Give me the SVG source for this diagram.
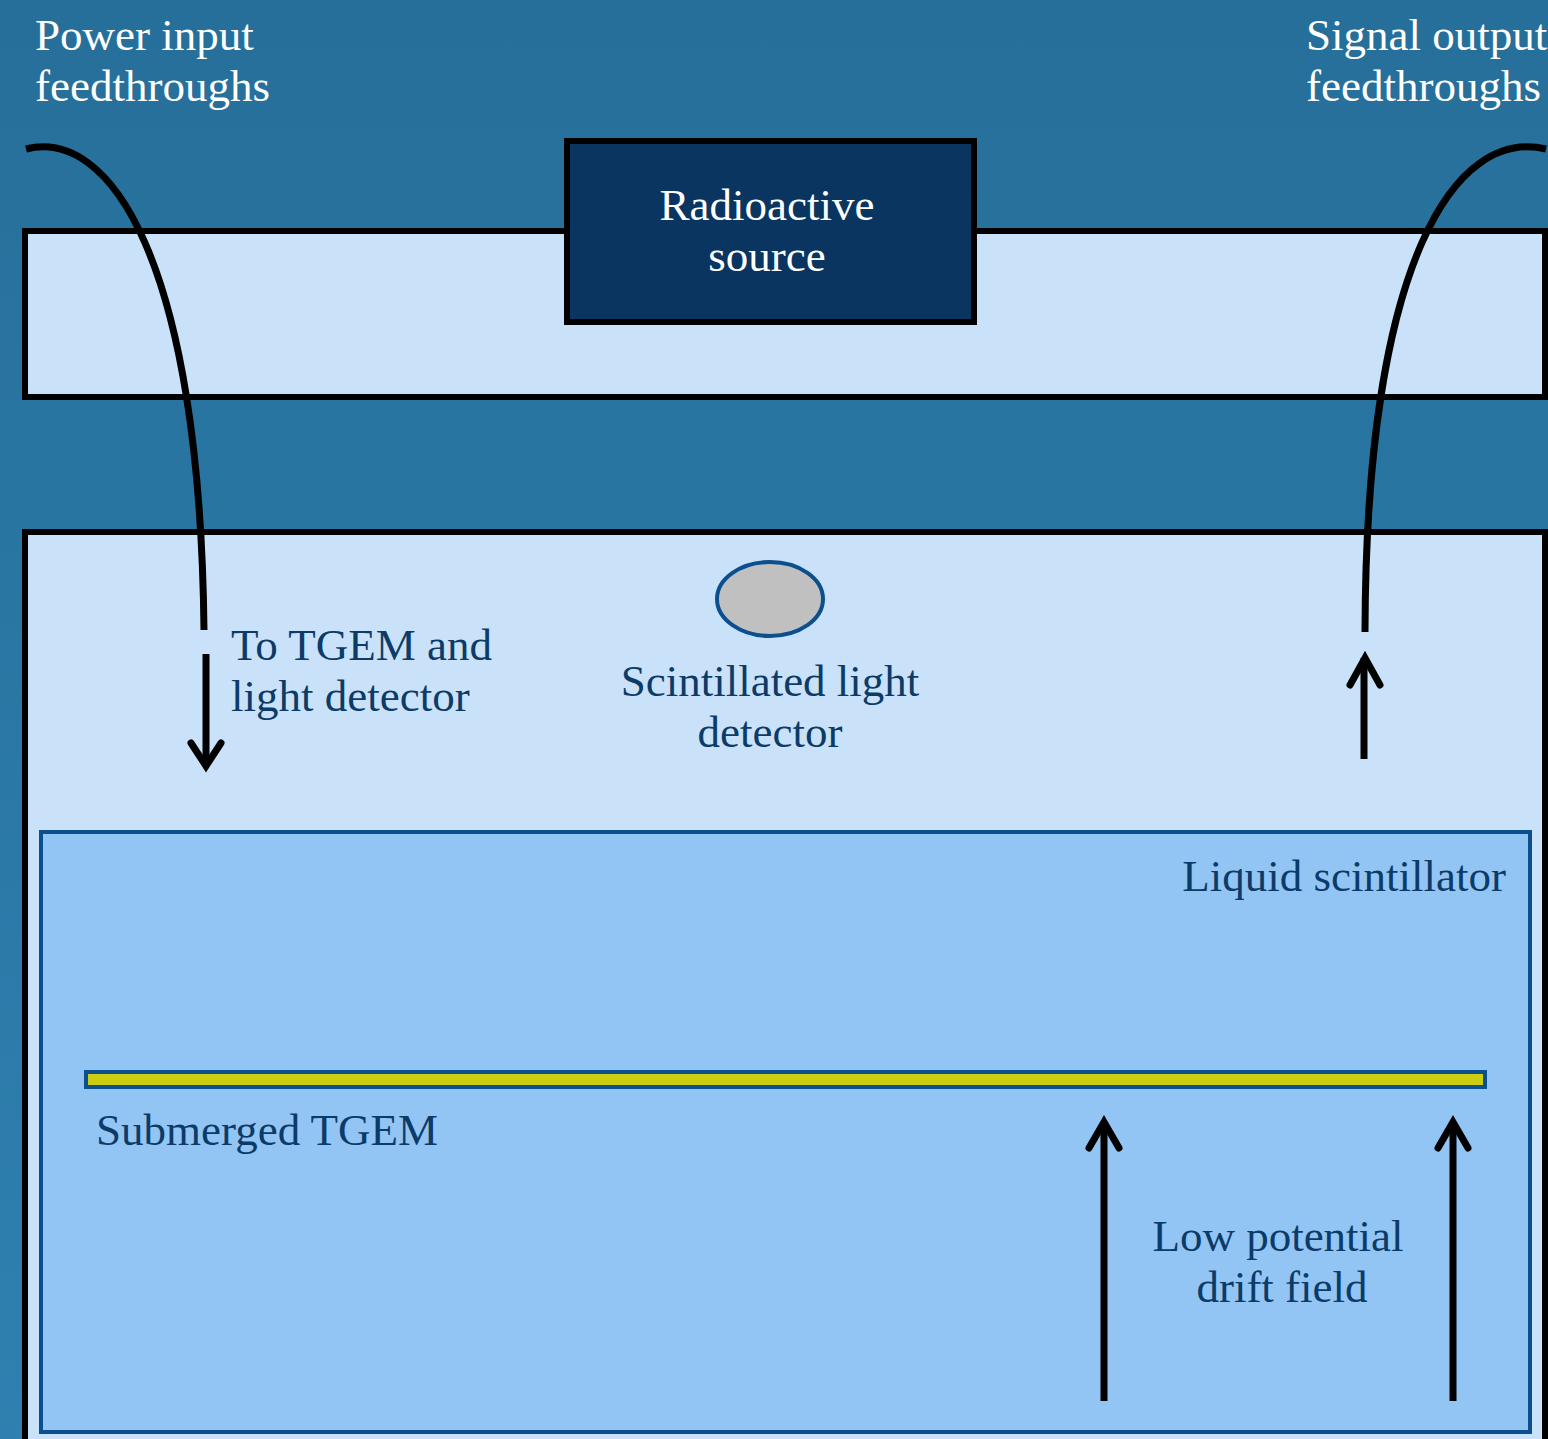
<svg xmlns="http://www.w3.org/2000/svg" width="1548" height="1439" viewBox="0 0 1548 1439">
<defs>
<linearGradient id="bg" x1="0" y1="0" x2="0" y2="1">
<stop offset="0" stop-color="#266f9a"/>
<stop offset="1" stop-color="#2f80b0"/>
</linearGradient>
</defs>
<style>
.t{font-family:"Liberation Serif","Times New Roman",serif;font-size:45px}
.w{fill:#ffffff}
.d{fill:#0c3b68}
.line{fill:none;stroke:#000;stroke-width:7}
.chev{fill:none;stroke:#000;stroke-width:7;stroke-linecap:round;stroke-linejoin:miter}
</style>
<rect x="0" y="0" width="1548" height="1439" fill="url(#bg)"/>
<g id="top-plate"><rect x="25" y="231" width="1520" height="166" fill="#c9e2f9" stroke="#000" stroke-width="6"/></g>
<g id="vessel"><rect x="25" y="532" width="1520" height="920" fill="#c9e2f9" stroke="#000" stroke-width="6"/></g>
<g id="liquid"><rect x="41" y="832" width="1489" height="600" fill="#92c5f4" stroke="#0b4f8f" stroke-width="4"/>
<text class="t d" x="1506" y="891" text-anchor="end">Liquid scintillator</text></g>
<g id="source"><rect x="567" y="141" width="407" height="181" fill="#0a3560" stroke="#000" stroke-width="6"/>
<text class="t w" x="767" y="220" text-anchor="middle">Radioactive</text>
<text class="t w" x="767" y="271" text-anchor="middle">source</text></g>
<g id="light-detector"><ellipse cx="770" cy="599" rx="53" ry="37" fill="#c0c0c0" stroke="#0b4f8f" stroke-width="4"/>
<text class="t d" x="770" y="696" text-anchor="middle">Scintillated light</text>
<text class="t d" x="770" y="747" text-anchor="middle">detector</text></g>
<g id="tgem"><rect x="86" y="1072" width="1399" height="15" fill="#cccc10" stroke="#0b4f8f" stroke-width="4"/>
<text class="t d" x="96" y="1145">Submerged TGEM</text></g>
<g id="labels">
<text class="t w" x="35" y="50">Power input</text>
<text class="t w" x="35" y="101">feedthroughs</text>
<text class="t w" x="1306" y="50">Signal output</text>
<text class="t w" x="1306" y="101">feedthroughs</text>
<text class="t d" x="231" y="660">To TGEM and</text>
<text class="t d" x="231" y="711">light detector</text>
<text class="t d" x="1278" y="1251" text-anchor="middle">Low potential</text>
<text class="t d" x="1282" y="1302" text-anchor="middle">drift field</text>
</g>
<g id="connectors">
<path class="line" d="M26,149 C110,128 200,260 204,630"/>
<path class="line" d="M206,654 V766"/>
<path class="chev" d="M191,743 L206,766 L221,743"/>
<path class="line" d="M1546,149 C1455,128 1366,260 1365,632"/>
<path class="line" d="M1364,759 V658"/>
<path class="chev" d="M1350,685 L1365,658 L1380,685"/>
<path class="line" d="M1104,1401 V1122"/>
<path class="chev" d="M1089,1148 L1104,1122 L1119,1148"/>
<path class="line" d="M1453,1401 V1122"/>
<path class="chev" d="M1438,1148 L1453,1122 L1468,1148"/>
</g>
</svg>
